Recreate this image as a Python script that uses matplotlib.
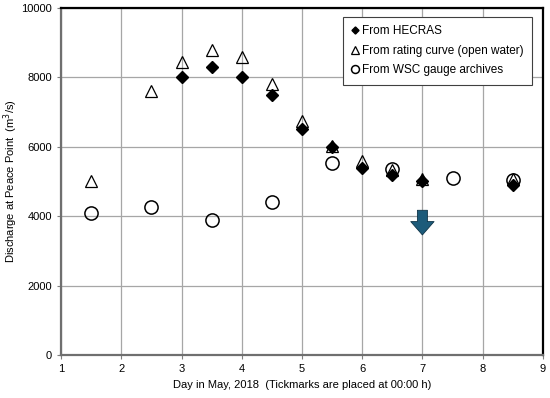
import numpy as np
import matplotlib.pyplot as plt

# Datos
dia_hecras = [3, 3.5, 4, 4.5, 5, 5.5, 6, 6.5, 7, 8.5]
q_hecras = [8000, 8300, 8000, 7500, 6500, 6000, 5400, 5200, 5000, 4900]

dia_curva = [1.5, 2.5, 3, 3.5, 4, 4.5, 5, 5.5, 6, 6.5, 7, 8.5]
q_curva = [5000, 7600, 8450, 8800, 8580, 7800, 6750, 6020, 5600, 5330, 5080, 5070]

dia_wsc = [1.5, 2.5, 3.5, 4.5, 5.5, 6.5, 7.5, 8.5]
q_wsc = [4100, 4270, 3880, 4400, 5530, 5350, 5100, 5050]

flecha_x = 7
flecha_y = [4250, 3380]


def main():
    plt.rcParams['font.family'] = ['Liberation Sans', 'DejaVu Sans']
    fig, ax = plt.subplots(figsize=(5.5, 3.98), dpi=100)
    fig.subplots_adjust(left=0.111, right=0.987, top=0.98, bottom=0.108)

    ax.plot(dia_wsc, q_wsc, 'o', ms=9.5, mfc='none', mec='black', mew=1.1,
            label='From WSC gauge archives', zorder=3)
    ax.plot(dia_curva, q_curva, '^', ms=8.5, mfc='none', mec='black', mew=0.9,
            label='From rating curve (open water)', zorder=4)
    ax.plot(dia_hecras, q_hecras, 'D', ms=6, color='black',
            label='From HECRAS', zorder=5)

    ax.annotate('', xy=(flecha_x, flecha_y[1]), xytext=(flecha_x, flecha_y[0]),
                arrowprops=dict(arrowstyle='simple,head_width=1.4,head_length=0.8,tail_width=0.6',
                                fc='#1d5b7a', ec='#0e3347', lw=0.6, mutation_scale=12),
                zorder=6)

    ax.set_xlim(1, 9)
    ax.set_ylim(0, 10000)
    ax.set_xticks(range(1, 10))
    ax.set_yticks(range(0, 10001, 2000))
    ax.grid(True, color='#a6a6a6', lw=0.9)
    ax.set_axisbelow(True)
    ax.tick_params(labelsize=8, length=3, color='#7f7f7f')

    for lado in ['left', 'bottom']:
        ax.spines[lado].set_color('#6f6f6f')
        ax.spines[lado].set_linewidth(1.6)
    for lado in ['top', 'right']:
        ax.spines[lado].set_color('black')
        ax.spines[lado].set_linewidth(1.6)

    ax.set_xlabel('Day in May, 2018  (Tickmarks are placed at 00:00 h)', fontsize=8)
    ax.set_ylabel('Discharge at Peace Point  (m$^3$/s)', fontsize=8, labelpad=1)

    handles, labels = ax.get_legend_handles_labels()
    orden = [2, 1, 0]
    leg = ax.legend([handles[i] for i in orden], [labels[i] for i in orden],
                    loc='upper right', bbox_to_anchor=(0.985, 0.985), fontsize=8.5,
                    fancybox=False, edgecolor='#404040', framealpha=1,
                    markerscale=0.6, handlelength=0.6, handletextpad=0.35,
                    labelspacing=0.65, borderpad=0.7, borderaxespad=0.3)
    leg.get_frame().set_linewidth(0.8)

    fig.savefig('out.png', dpi=100)


if __name__ == "__main__":
    main()
